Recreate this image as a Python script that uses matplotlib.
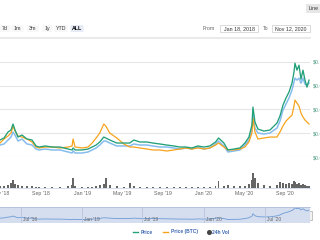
import pandas as pd
import matplotlib
matplotlib.use("Agg")
import matplotlib.pyplot as plt
from matplotlib.patches import Rectangle, FancyBboxPatch

# ---- data ----
dates = pd.to_datetime([
    "2018-04-30", "2018-05-12", "2018-05-24", "2018-06-02", "2018-06-08", "2018-06-14",
    "2018-06-23", "2018-07-05", "2018-07-20", "2018-08-04", "2018-08-16", "2018-08-25",
    "2018-09-12", "2018-10-03", "2018-10-27", "2018-11-20", "2018-12-02", "2018-12-05",
    "2018-12-11", "2019-01-01", "2019-01-19", "2019-01-31", "2019-02-12", "2019-02-23",
    "2019-03-07", "2019-03-13", "2019-03-25", "2019-04-15", "2019-05-06", "2019-05-24",
    "2019-06-05", "2019-06-23", "2019-07-14", "2019-08-01", "2019-08-22", "2019-09-12",
    "2019-10-03", "2019-10-21", "2019-11-08", "2019-11-26", "2019-12-14", "2020-01-01",
    "2020-01-19", "2020-02-05", "2020-02-14", "2020-03-01", "2020-03-13", "2020-03-31",
    "2020-04-18", "2020-05-03", "2020-05-15", "2020-05-24", "2020-05-27", "2020-06-02",
    "2020-06-11", "2020-06-29", "2020-07-17", "2020-08-07", "2020-08-16", "2020-08-25",
    "2020-09-03", "2020-09-12", "2020-09-21", "2020-09-27", "2020-09-30", "2020-10-06",
    "2020-10-12", "2020-10-18", "2020-10-24", "2020-10-30", "2020-11-05", "2020-11-11",
])

# prices in thousandths of a dollar
price_usd = [
    17.9, 20.0, 26.3, 28.4, 34.7, 28.4, 21.0, 23.1, 18.9, 17.9, 11.6, 10.5,
    11.6, 10.5, 10.5, 8.4, 7.4, 9.5, 7.4, 7.4, 8.4, 10.5, 12.6, 15.8,
    21.0, 20.0, 17.9, 14.7, 14.7, 14.7, 17.9, 15.8, 15.8, 14.7, 13.7, 12.6,
    11.6, 10.5, 10.5, 9.5, 11.6, 10.5, 11.6, 15.8, 20.0, 14.7, 7.4, 8.4,
    9.5, 14.7, 21.0, 33.6, 52.5, 36.8, 29.4, 27.3, 28.4, 35.7, 43.1, 54.6,
    62.0, 68.3, 77.7, 89.3, 98.7, 91.4, 96.6, 81.9, 91.4, 80.9, 73.5, 80.9,
]
price_eth = [
    12.6, 13.7, 17.9, 21.0, 26.3, 23.1, 16.8, 18.9, 13.7, 12.6, 8.4, 7.4,
    8.4, 7.4, 7.4, 5.3, 4.2, 6.3, 4.2, 4.2, 5.3, 7.4, 9.5, 12.6,
    16.8, 16.8, 14.7, 11.6, 11.6, 11.6, 13.7, 12.6, 12.6, 11.6, 10.5, 10.5,
    9.5, 8.4, 9.5, 8.4, 10.5, 8.4, 9.5, 13.7, 16.8, 11.6, 5.3, 6.3,
    7.4, 12.6, 17.9, 28.4, 44.1, 30.5, 25.2, 24.2, 25.2, 30.5, 37.8, 49.4,
    55.7, 62.0, 70.4, 78.8, 83.0, 80.9, 83.0, 77.7, 83.0, 76.7, 75.6, 77.7,
]
price_btc = [
    14.7, 18.9, 22.1, 25.2, 32.6, 27.3, 22.1, 21.0, 18.9, 15.8, 10.5, 9.5,
    10.5, 10.5, 9.5, 10.5, 11.6, 18.9, 10.5, 9.5, 10.5, 14.7, 20.0, 25.2,
    34.7, 32.6, 25.2, 20.0, 13.7, 10.5, 10.5, 9.5, 8.4, 7.4, 7.4, 6.3,
    7.4, 8.4, 9.5, 8.4, 9.5, 8.4, 9.5, 12.6, 14.7, 10.5, 7.4, 7.4,
    8.4, 10.5, 15.8, 25.2, 41.0, 26.3, 18.9, 20.0, 21.0, 21.0, 26.3, 32.6,
    37.8, 41.0, 44.1, 53.6, 59.9, 56.7, 53.6, 46.2, 42.0, 38.9, 36.8, 34.7,
]
# 24h volume, $M
volume = [
    0.2, 0.2, 0.3, 0.5, 0.8, 0.4, 0.3, 0.2, 0.2, 0.2, 0.1, 0.1,
    0.1, 0.1, 0.1, 0.2, 0.3, 1.0, 0.2, 0.1, 0.1, 0.1, 0.2, 0.3,
    0.4, 1.0, 0.3, 0.2, 0.1, 0.5, 0.2, 0.1, 0.1, 0.1, 0.1, 0.1,
    0.1, 0.1, 0.1, 0.1, 0.1, 0.1, 0.1, 0.2, 0.7, 0.2, 0.3, 0.2,
    0.2, 0.2, 0.4, 0.8, 1.5, 1.0, 0.5, 0.3, 0.2, 0.3, 0.6, 0.5,
    0.4, 0.5, 0.4, 0.7, 0.6, 0.4, 0.5, 0.3, 0.4, 0.3, 0.2, 0.2,
]
price_usd = [v / 1000 for v in price_usd]
price_eth = [v / 1000 for v in price_eth]
price_btc = [v / 1000 for v in price_btc]

y_ticks = [0.0, 0.025, 0.05, 0.075, 0.1]
y_labels = ["$0.000", "$0.025", "$0.050", "$0.075", "$0.100"]
x_ticks = ["2018-05-01", "2018-09-01", "2019-01-01", "2019-05-01",
           "2019-09-01", "2020-01-01", "2020-05-01", "2020-09-01"]
x_labels = ["May '18", "Sep '18", "Jan '19", "May '19",
            "Sep '19", "Jan '20", "May '20", "Sep '20"]
nav_ticks = ["2018-07-01", "2019-01-01", "2019-07-01", "2020-01-01", "2020-07-01"]
nav_labels = ["Jul '18", "Jan '19", "Jul '19", "Jan '20", "Jul '20"]
buttons = ["7d", "1m", "3m", "1y", "YTD", "ALL"]

GREEN = "#22a07a"
ORANGE = "#f7a41d"
BLUE = "#86bdee"
xlim = (pd.Timestamp("2018-04-30"), pd.Timestamp("2020-11-14"))

W, H = 320, 240
def rect(x0, y0, x1, y1):
    return [x0 / W, 1 - y1 / H, (x1 - x0) / W, (y1 - y0) / H]

plt.rcParams["font.family"] = ["Liberation Sans", "DejaVu Sans"]
fig = plt.figure(figsize=(3.2, 2.4), dpi=100)

# UI layer in pixel coordinates
ui = fig.add_axes([0, 0, 1, 1])
ui.set_xlim(0, W)
ui.set_ylim(H, 0)
ui.axis("off")

# range buttons
bx = [5, 17.5, 33, 47.5, 61, 77]
bw = [11, 12, 12, 10, 13, 13]
for lab, cx, w in zip(buttons, bx, bw):
    sel = lab == "ALL"
    ui.add_patch(FancyBboxPatch((cx - w / 2, 25), w, 7, boxstyle="round,pad=0,rounding_size=1",
                                fc="#e6ebf5" if sel else "#f7f7f7", ec="none"))
    ui.text(cx, 28.7, lab, fontsize=3.8, ha="center", va="center",
            color="#000" if sel else "#333", weight="bold" if sel else "normal")

# date range inputs
ui.text(209, 28.7, "From", fontsize=3.8, ha="center", va="center", color="#666")
ui.add_patch(Rectangle((220, 25), 38, 7, fc="white", ec="#cccccc", lw=0.5))
ui.text(239, 28.7, "Jan 18, 2018", fontsize=3.8, ha="center", va="center", color="#333")
ui.text(265.5, 28.7, "To", fontsize=3.8, ha="center", va="center", color="#666")
ui.add_patch(Rectangle((272, 25), 38, 7, fc="white", ec="#cccccc", lw=0.5))
ui.text(291, 28.7, "Nov 12, 2020", fontsize=3.8, ha="center", va="center", color="#333")

# chart type button
ui.add_patch(FancyBboxPatch((306, 4), 16, 9, boxstyle="round,pad=0,rounding_size=1",
                            fc="#e6e6e6", ec="none"))
ui.text(309, 8.7, "Line", fontsize=3.8, ha="left", va="center", color="#333")
ui.plot([0, 310], [37.5, 37.5], color="#e6e6e6", lw=1.2)

# legend
for x0, x1, c, lab in [(133, 138, GREEN, "Price"), (163, 168, ORANGE, "Price (BTC)")]:
    ui.plot([x0, x1], [232, 232], color=c, lw=1.0)
    ui.text(x1 + 3, 232, lab, fontsize=3.5, ha="left", va="center", color="#3d67b1", weight="bold")
ui.plot([208.5], [232], "o", color="#444", ms=2.6)
ui.text(212.5, 232, "24h Vol", fontsize=3.5, ha="left", va="center", color="#3d67b1", weight="bold")

# ---- main price chart ----
ax = fig.add_axes(rect(0, 50, 310, 157))
ax.patch.set_alpha(0)
ax.plot(dates, price_eth, color=BLUE, lw=1.1)
ax.plot(dates, price_btc, color=ORANGE, lw=0.9)
ax.plot(dates, price_usd, color=GREEN, lw=0.95)
ax.set_xlim(*xlim)
ax.set_ylim(0, 0.1126)
ax.set_yticks(y_ticks)
ax.set_yticklabels(y_labels)
ax.yaxis.tick_right()
ax.tick_params(axis="y", length=0, pad=2.2, labelsize=3.8, labelcolor="#4f9e86")
ax.set_xticks([])
ax.grid(axis="y", color="#e6e6e6", lw=0.8)
for s in ax.spines.values():
    s.set_visible(False)

# ---- volume ----
av = fig.add_axes(rect(0, 165, 310, 188))
av.patch.set_alpha(0)
av.bar(dates, volume, width=5, color="#666666")
av.set_xlim(*xlim)
av.set_ylim(0, 2.3)
av.set_yticks([])
for s in ["top", "left", "right"]:
    av.spines[s].set_visible(False)
av.spines["bottom"].set_color("#ccd6eb")
av.spines["bottom"].set_linewidth(0.6)
av.set_xticks(pd.to_datetime(x_ticks))
av.set_xticklabels(x_labels)
av.tick_params(axis="x", length=0, pad=2.0, labelsize=3.8, labelcolor="#666666")

# ---- navigator ----
an = fig.add_axes(rect(0, 207, 310, 223))
an.set_facecolor("#d5deef")
an.plot(dates, price_usd, color="#6d9bd6", lw=0.6)
an.set_xlim(*xlim)
an.set_ylim(-0.02, 0.105)
an.set_yticks([])
an.set_xticks([])
for d, lab in zip(pd.to_datetime(nav_ticks), nav_labels):
    an.axvline(d, color="#b9c4dc", lw=0.6)
    an.text(d + pd.Timedelta(days=6), -0.012, lab, fontsize=3.5, color="#666666", va="bottom")
for s in an.spines.values():
    s.set_visible(False)
an.spines["top"].set_visible(True)
an.spines["top"].set_color("#b3bfdb")
an.spines["top"].set_linewidth(0.6)
ui.add_patch(Rectangle((308, 210.5), 3.5, 9, fc="#f2f2f2", ec="#999999", lw=0.4, zorder=5))
ui.set_zorder(-1)

fig.savefig("out.png", dpi=100)
